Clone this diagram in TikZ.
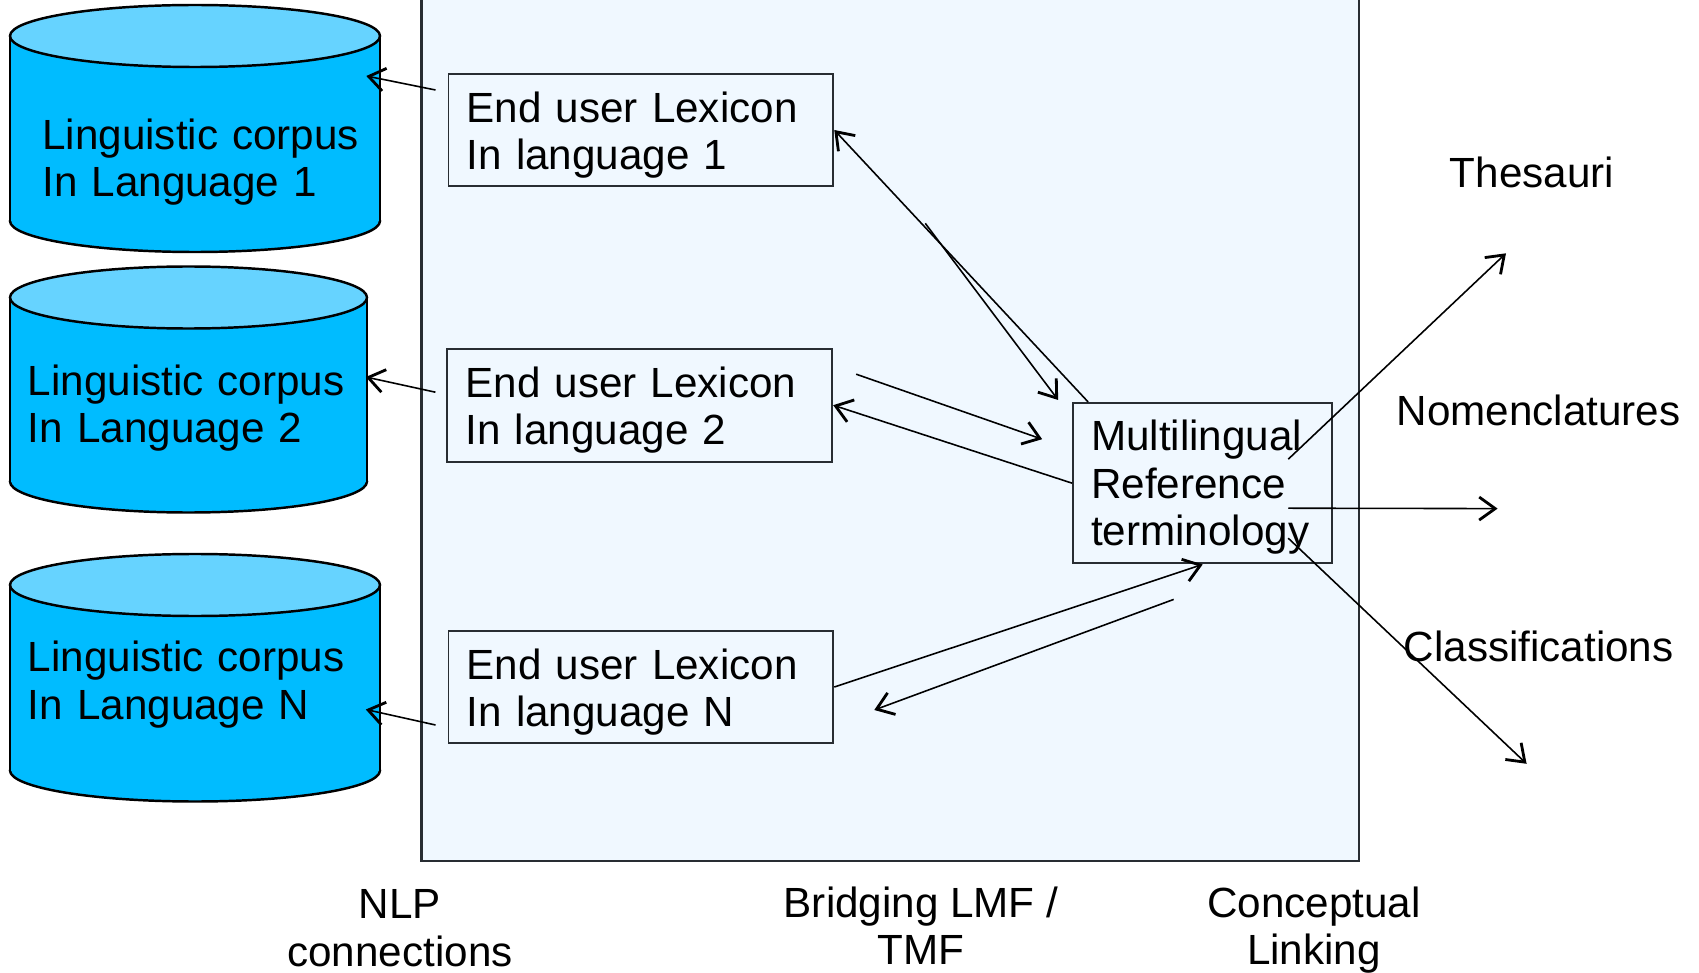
\documentclass[tikz,border=0pt]{standalone}
\usepackage{fontspec}
\setmainfont{Liberation Sans}
\usepackage{tikz}
\usetikzlibrary{arrows.meta,calc}
\definecolor{panelblue}{RGB}{240,248,255}
\definecolor{corpusblue}{RGB}{0,188,255}
\definecolor{corpustop}{RGB}{102,211,255}
\definecolor{edgegray}{RGB}{40,45,50}

\begin{document}
\begin{tikzpicture}[x=0.01cm, y=-0.01cm,
    txt/.style={font=\fontsize{12}{13.5}\selectfont},
    corpus/.style={fill=corpusblue, draw=black, line width=0.7pt},
    corpuslid/.style={fill=corpustop, draw=black, line width=0.7pt},
    corpustext/.style={txt, align=left, inner ysep=0pt},
    lexbox/.style={txt, draw=edgegray, fill=panelblue, line width=0.55pt, align=left,
        text width=3.48cm, inner xsep=0.18cm, inner ysep=0pt, minimum height=1.127cm,
        text height=11.5pt, text depth=16pt},
    arr/.style={-{Straight Barb[length=1.6mm, width=2.3mm, line width=0.8pt]}, line width=0.45pt}]
    \useasboundingbox (0,0) rectangle (1699,973);

    % Bridging panel
    \filldraw[fill=panelblue, draw=edgegray, line width=0.6pt] (421.5,-5) rectangle (1358.7,861.4);

    % Corpus 1
    \filldraw[corpus] (195,221) ellipse [x radius=185, y radius=31];
    \fill[corpusblue] (10,36) rectangle (380,221);
    \draw[line width=0.7pt] (10,36) -- (10,221) (380,36) -- (380,221);
    \filldraw[corpuslid] (195,36) ellipse [x radius=185, y radius=31];
    \node[corpustext, text width=3.05cm, inner xsep=0.32cm] (cyl1) at (195,162)
        {\mbox{Linguistic corpus}\\In Language 1};

    % Corpus 2
    \filldraw[corpus] (188.5,481.5) ellipse [x radius=178.5, y radius=31];
    \fill[corpusblue] (10,297.5) rectangle (367,481.5);
    \draw[line width=0.7pt] (10,297.5) -- (10,481.5) (367,297.5) -- (367,481.5);
    \filldraw[corpuslid] (188.5,297.5) ellipse [x radius=178.5, y radius=31];
    \node[corpustext, text width=3.21cm, inner xsep=0.18cm] (cyl2) at (188.5,408)
        {\mbox{Linguistic corpus}\\In Language 2};

    % Corpus N
    \filldraw[corpus] (195,770.5) ellipse [x radius=185, y radius=31];
    \fill[corpusblue] (10,585) rectangle (380,770.5);
    \draw[line width=0.7pt] (10,585) -- (10,770.5) (380,585) -- (380,770.5);
    \filldraw[corpuslid] (195,585) ellipse [x radius=185, y radius=31];
    \node[corpustext, text width=3.34cm, inner xsep=0.18cm] (cylN) at (195,684.5)
        {\mbox{Linguistic corpus}\\In Language N};

    % Lexicons
    \node[lexbox, minimum width=3.846cm] (lex1) at (640.9,130) {End user Lexicon\\In language 1};
    \node[lexbox, minimum width=3.846cm] (lex2) at (639.8,405.2) {End user Lexicon\\In language 2};
    \node[lexbox, minimum width=3.846cm] (lexN) at (640.9,687) {End user Lexicon\\In language N};

    % Reference terminology
    \node[lexbox, text width=2.23cm, minimum height=1.604cm, text height=11.1pt, text depth=29.5pt]
        (mrt) at (1202.7,483.2) {Multilingual\\Reference\\terminology};

    % Conceptual targets
    \node[txt] (thes) at (1532,172.3) {Thesauri};
    \node[txt] (nomen) at (1538.6,410.6) {Nomenclatures};
    \node[txt] (classif) at (1538.6,646.8) {Classifications};

    % Bottom captions
    \node[txt, align=center] (nlp) at (400,928) {NLP\\connections};
    \node[txt, align=center] (bridge) at (921,925.7) {Bridging LMF /\\TMF};
    \node[txt, align=center] (concept) at (1314,930) {Conceptual\\Linking};

    % NLP connections
    \draw[arr] ([shift={(-12,-40)}]lex1.west) -- ([shift={(-14,-86)}]cyl1.east);
    \draw[arr] ([shift={(-11,-13)}]lex2.west) -- ([shift={(-2,-31)}]cyl2.east);
    \draw[arr] ([shift={(-12,38)}]lexN.west) -- ([shift={(-15,25)}]cylN.east);

    % Bridging
    \draw[arr] ([shift={(16,0)}]mrt.north west) -- (lex1.east);
    \draw[arr] ([shift={(91,36)}]lex1.south east) -- ([shift={(-14,-2)}]mrt.north west);
    \draw[arr] ([shift={(23,-31)}]lex2.east) -- ([shift={(-30,-44)}]mrt.west);
    \draw[arr] (mrt.west) -- (lex2.east);
    \draw[arr] (lexN.east) -- (mrt.south);
    \draw[arr] ([shift={(-29,35)}]mrt.south) -- ([shift={(40,23)}]lexN.east);

    % Conceptual linking
    \draw[arr] ([shift={(-45,-24)}]mrt.east) -- ([shift={(-26,81)}]thes.center);
    \draw[arr] ([shift={(-45,25)}]mrt.east) -- ([shift={(-41,98)}]nomen.center);
    \draw[arr] ([shift={(-45,55)}]mrt.east) -- ([shift={(-12,117)}]classif.center);
\end{tikzpicture}
\end{document}
